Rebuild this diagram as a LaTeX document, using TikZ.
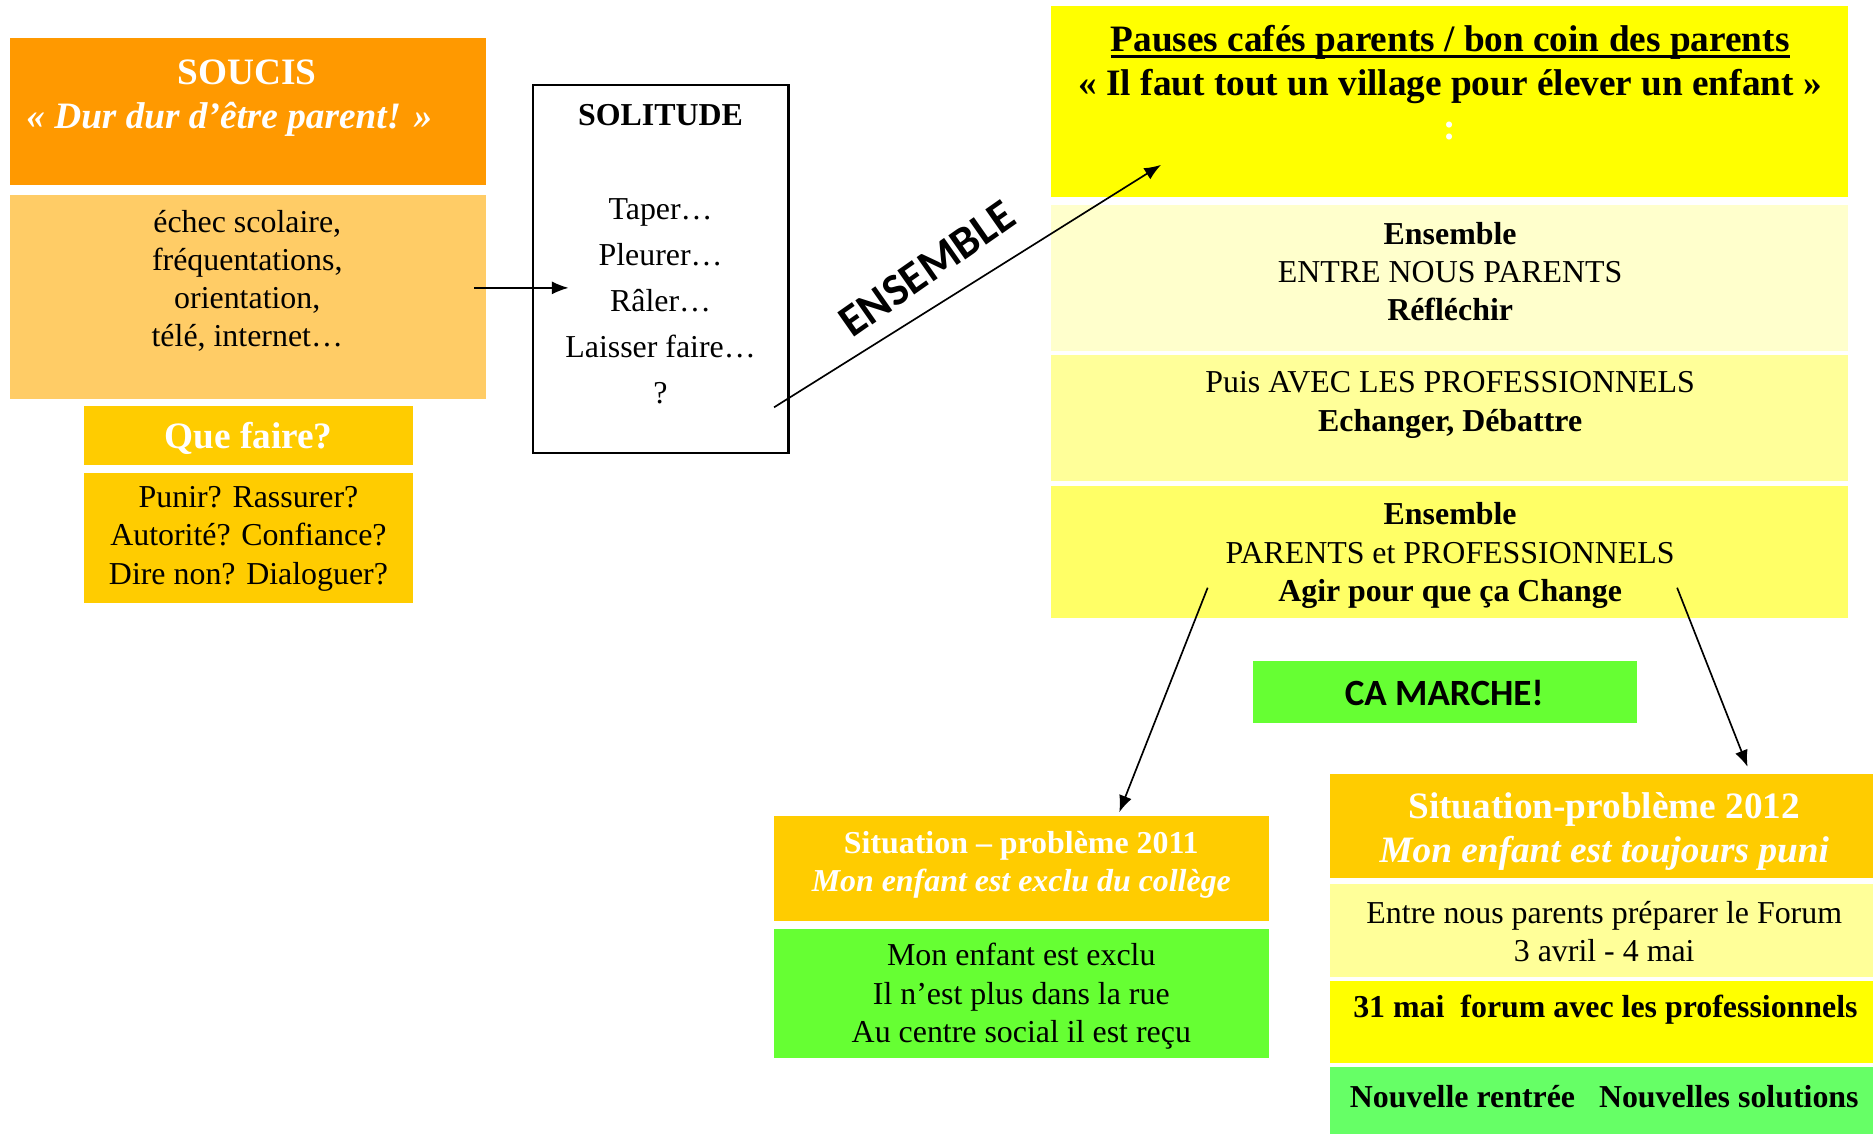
\documentclass[tikz,border=0pt]{standalone}
\usepackage{fontspec}
\setmainfont{Liberation Serif}
\newfontfamily\carlito{Carlito}
\usetikzlibrary{arrows.meta}
\definecolor{cSoucis}{HTML}{FF9900}
\definecolor{cLorange}{HTML}{FFCC66}
\definecolor{cGold}{HTML}{FFCC00}
\definecolor{cYel}{HTML}{FFFF00}
\definecolor{cY1}{HTML}{FFFFCC}
\definecolor{cY2}{HTML}{FFFF99}
\definecolor{cY3}{HTML}{FFFF66}
\definecolor{cGreen}{HTML}{66FF33}
\definecolor{cGreen2}{HTML}{66FF66}
\newcommand\thul[1]{\setbox0\hbox{#1}\leavevmode\rlap{\rule[-5.6pt]{\wd0}{2.4pt}}\box0}
\begin{document}
\begin{tikzpicture}[x=1pt,y=-1pt,
  box/.style={draw=none,inner sep=0,outer sep=0},
  t26/.style={inner sep=0,align=center,font=\fontsize{26.7}{32}\selectfont},
  t26b/.style={inner sep=0,align=center,font=\fontsize{26.7}{32}\selectfont\bfseries},
  t30/.style={inner sep=0,align=center,font=\fontsize{31.2}{37}\selectfont\bfseries},
  arr/.style={draw=black,line width=1.4pt,-{Latex[length=14pt,width=11pt]}}]
\useasboundingbox (0,0) rectangle (1568,949.3);
% boxes
\fill[cSoucis] (8,32) rectangle (407,155);
\fill[cLorange] (8,163) rectangle (407,334);
\fill[cGold] (70,340) rectangle (346,389);
\fill[cGold] (70,396) rectangle (346,505);
\draw[line width=2pt,fill=white] (446,71) rectangle (660,379);
\fill[cYel] (880,5) rectangle (1547,165);
\fill[cY1] (880,172) rectangle (1547,294);
\fill[cY2] (880,297) rectangle (1547,403);
\fill[cY3] (880,407) rectangle (1547,517);
\fill[cGreen] (1049,553) rectangle (1370,605);
\fill[cGold] (648,683) rectangle (1062,771);
\fill[cGreen] (648,778) rectangle (1062,886);
\fill[cGold] (1113,648) rectangle (1568,735);
\fill[cY2] (1113,740) rectangle (1568,818);
\fill[cYel] (1113,821) rectangle (1568,890);
\fill[cGreen2] (1113,893) rectangle (1568,950);
% texts
\node[t30,text=white] (soucis) at (207,82) {SOUCIS\\\itshape « Dur dur d’être parent! »\hspace*{30pt}};
\node[t26] (echec) at (207,235) {échec scolaire,\\fréquentations,\\orientation,\\télé, internet…};
\node[t30,text=white] (quefaire) at (208,367) {Que faire?};
\node[t26] (punir) at (208,451) {Punir? Rassurer?\\Autorité? Confiance?\\Dire non? Dialoguer?};
\node[t26b] (solitude) at (553,96) {SOLITUDE};
\node[t26,font=\fontsize{26.7}{38.5}\selectfont] (items) at (553,252) {Taper…\\Pleurer…\\Râler…\\Laisser faire…\\?};
\node[t30] (pauses) at (1214,69) {\thul{Pauses cafés parents / bon coin des parents}\\« Il faut tout un village pour élever un enfant »\\\textcolor{white}{:}};
\node[t26] (ens1) at (1214,227.5) {\textbf{Ensemble}\\ENTRE NOUS PARENTS\\\textbf{Réfléchir}};
\node[t26] (ens2) at (1214,339) {Puis AVEC LES PROFESSIONNELS\\\textbf{Echanger, Débattre}};
\node[t26] (ens3) at (1214,465) {\textbf{Ensemble}\\PARENTS et PROFESSIONNELS\\\textbf{Agir pour que ça Change}};
\node[inner sep=0,font=\carlito\bfseries\fontsize{31}{36}\selectfont] (camarche) at (1209,580) {CA MARCHE!};
\node[t26b,text=white] (sit11) at (855,724) {Situation – problème 2011\\\itshape Mon enfant est exclu du collège};
\node[t26] (exclu) at (855,834) {Mon enfant est exclu\\Il n’est plus dans la rue\\Au centre social il est reçu};
\node[t30,text=white] (sit12) at (1343,696) {Situation-problème 2012\\\itshape Mon enfant est toujours puni};
\node[t26] (entre) at (1343,780) {Entre nous parents préparer le Forum\\3 avril - 4 mai};
\node[t26b] (mai) at (1344,845) {31 mai\ \ forum avec les professionnels};
\node[t26b] (nouv) at (1343,918) {Nouvelle rentrée\ \ \ Nouvelles solutions};
% connectors
\coordinate (a1) at (397,241);
\coordinate (a2) at (476,241);
\coordinate (b1) at (648,341);
\coordinate (b2) at (972,138);
\coordinate (c1) at (1011,492);
\coordinate (c2) at (937,680);
\coordinate (d1) at (1404,492);
\coordinate (d2) at (1463,642);
\draw[arr] (a1) -- (a2);
\draw[arr] (b1) -- (b2);
\draw[arr] (c1) -- (c2);
\draw[arr] (d1) -- (d2);
\node[inner sep=0,rotate=35,font=\carlito\bfseries\fontsize{38}{44}\selectfont] (ensemble) at (776,225) {ENSEMBLE};
\end{tikzpicture}
\end{document}
